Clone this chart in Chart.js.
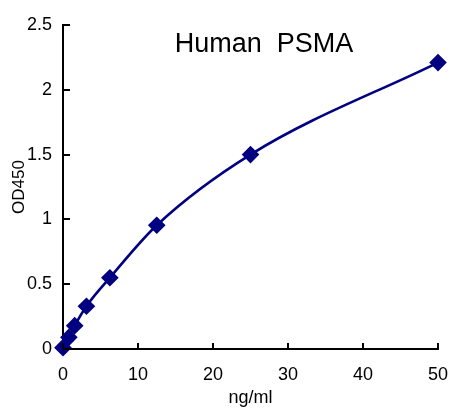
<!DOCTYPE html>
<html>
<head>
<meta charset="utf-8">
<script src="https://cdn.jsdelivr.net/npm/chart.js@4/dist/chart.umd.min.js"></script>
<style>
html,body{margin:0;padding:0;background:#fff;}
#wrap{width:474px;height:413px;position:relative;}
</style>
</head>
<body>
<div id="wrap"><canvas id="c" width="474" height="413"></canvas></div>
<script>
const titleText = "Human  PSMA";
const xTitle = "ng/ml";
const yTitle = "OD450";
const concentrations = [0, 0.78, 1.56, 3.125, 6.25, 12.5, 25, 50];
const odValues = [0.01, 0.09, 0.18, 0.33, 0.55, 0.955, 1.50, 2.21];
const xTicks = [0, 10, 20, 30, 40, 50];
const yTicks = [0, 0.5, 1, 1.5, 2, 2.5];

const points = concentrations.map((x, i) => ({x: x, y: odValues[i]}));
const FONT = "'Liberation Sans', Arial, sans-serif";

const innerTicks = {
  id: 'innerTicks',
  afterDraw(chart) {
    const ctx = chart.ctx;
    const xs = chart.scales.x, ys = chart.scales.y;
    const a = chart.chartArea;
    ctx.save();
    ctx.strokeStyle = '#000';
    ctx.lineWidth = 2;
    ctx.beginPath();
    yTicks.forEach(v => {
      const py = Math.round(ys.getPixelForValue(v));
      ctx.moveTo(a.left, py);
      ctx.lineTo(a.left + 7, py);
    });
    xTicks.forEach(v => {
      const px = Math.round(xs.getPixelForValue(v));
      ctx.moveTo(px, a.bottom);
      ctx.lineTo(px, a.bottom - 6);
    });
    ctx.stroke();
    ctx.fillStyle = '#000';
    ctx.font = "27px " + FONT;
    ctx.textAlign = 'center';
    ctx.textBaseline = 'alphabetic';
    ctx.fillText(titleText, 264, 52);
    ctx.restore();
  }
};

new Chart(document.getElementById('c'), {
  type: 'scatter',
  data: {
    datasets: [{
      data: points,
      showLine: true,
      borderColor: '#000080',
      backgroundColor: '#000080',
      borderWidth: 2.6,
      cubicInterpolationMode: 'monotone',
      pointStyle: 'rectRot',
      pointRadius: 7,
      pointHoverRadius: 7,
      clip: false
    }]
  },
  options: {
    responsive: false,
    animation: false,
    events: [],
    layout: {padding: {left: 0, top: 25, right: 36, bottom: 0}},
    plugins: {legend: {display: false}, tooltip: {enabled: false}, title: {display: false}},
    scales: {
      x: {
        type: 'linear', min: 0, max: 50,
        afterBuildTicks(s) { s.ticks = xTicks.map(v => ({value: v})); },
        afterFit(s) { s.height = 64; },
        grid: {display: false, drawTicks: false},
        border: {display: true, color: '#000', width: 2},
        ticks: {color: '#000', font: {family: FONT, size: 18}, padding: 15, maxRotation: 0,
                callback: v => String(v)},
        title: {display: true, text: xTitle, color: '#000', font: {family: FONT, size: 18}, padding: {top: 0, bottom: 4}}
      },
      y: {
        type: 'linear', min: 0, max: 2.5,
        afterBuildTicks(s) { s.ticks = yTicks.map(v => ({value: v})); },
        afterFit(s) { s.width = 63; },
        grid: {display: false, drawTicks: false},
        border: {display: true, color: '#000', width: 2},
        ticks: {color: '#000', font: {family: FONT, size: 18}, padding: 11,
                callback: v => String(v)},
        title: {display: true, text: yTitle, color: '#000', font: {family: FONT, size: 17}, padding: {top: 9, bottom: 0}}
      }
    }
  },
  plugins: [innerTicks]
});
</script>
</body>
</html>
